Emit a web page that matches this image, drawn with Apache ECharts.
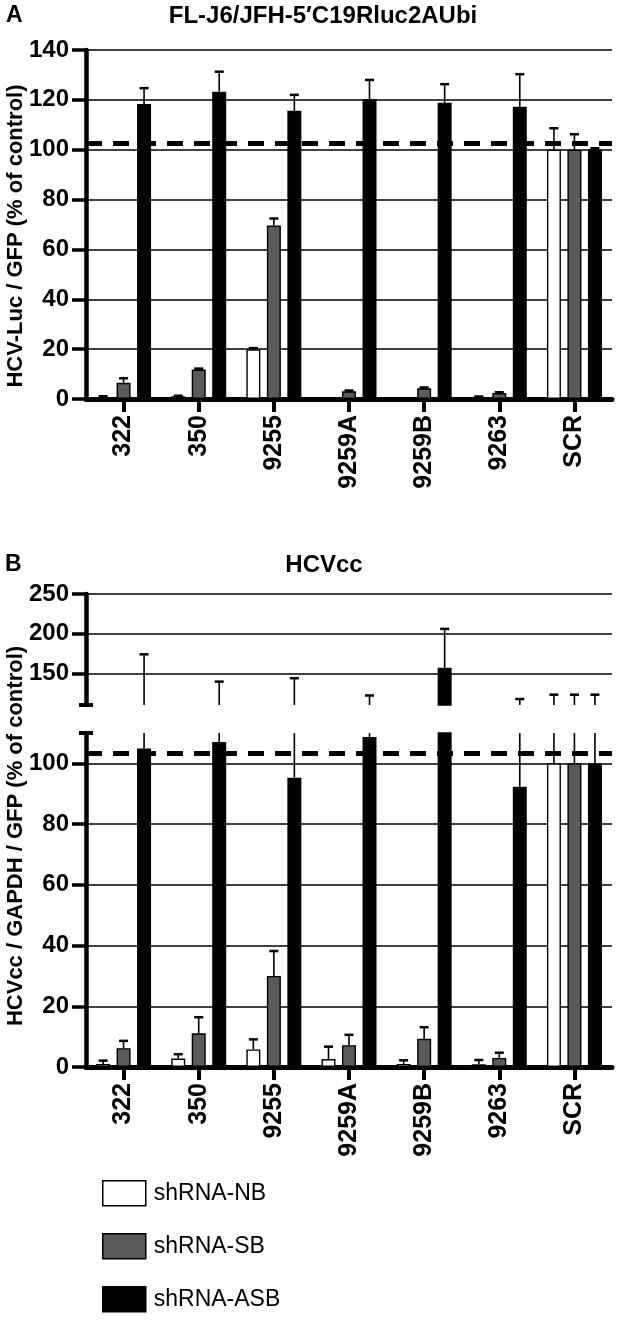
<!DOCTYPE html>
<html><head><meta charset="utf-8">
<script src="https://cdn.jsdelivr.net/npm/echarts@6/dist/echarts.min.js"></script>
<style>html,body{margin:0;padding:0;background:#fff}#c{width:628px;height:1321px}</style>
</head><body><div id="c"></div>
<script>
// ---------------- data ----------------
const categories = ['322', '350', '9255', '9259A', '9259B', '9263', 'SCR'];
const seriesNames = ['shRNA-NB', 'shRNA-SB', 'shRNA-ASB'];

// Panel A: FL-J6/JFH-5'C19Rluc2AUbi
const aNB = [0.8, 1.1, 19.9, 0.3, 0.3, 0.8, 100];
const aNBErr = [0.3, 0.2, 0.5, 0, 0, 0.2, 8.6];
const aSB = [6.5, 11.8, 69.6, 3.1, 4.3, 2.4, 100];
const aSBErr = [1.8, 0.4, 2.8, 0.3, 0.3, 0.3, 6.2];
const aASB = [118.3, 123.3, 115.6, 120.3, 118.8, 117.2, 100.3];
const aASBErr = [6.4, 8.0, 6.4, 7.7, 7.5, 13.1, 0.3];
const aRef = 102.4;
const aRange = [0, 140];
const aStep = 20;

// Panel B: HCVcc (broken axis)
const bNB = [1.0, 2.8, 5.8, 2.6, 1.0, 0.9, 100];
const bNBErr = [1.1, 1.4, 3.3, 4.1, 1.2, 1.4, 23];
const bSB = [6.2, 11.1, 30.0, 7.2, 9.3, 3.0, 100];
const bSBErr = [2.4, 5.3, 8.2, 3.4, 3.8, 1.7, 23];
const bASB = [104.9, 107.0, 95.3, 108.7, 157.0, 92.3, 100];
const bASBErr = [69.0, 32.5, 48.5, 13.3, 49.0, 25.2, 23];
const bRef = 103.3;
const bLowerRange = [0, 110];
const bUpperRange = [110, 250];
const bLowerTicks = [0, 20, 40, 60, 80, 100];
const bUpperTicks = [150, 200, 250];

// ---------------- style ----------------
const FONT = '"Liberation Sans", Arial, Helvetica, sans-serif';
const FILLS = ['#ffffff', '#5a5a5a', '#000000'];
const BAR_W = 14;
const BAR_STEP = 20.5;          // centre-to-centre distance of bars in a group
const CAP = 4.5;
const GL = 86, GR = 16;

const chart = echarts.init(document.getElementById('c'), null, {renderer: 'canvas'});

function errRender(offset) {
  return function (params, api) {
    const i = api.value(0), v = api.value(1), e = api.value(2);
    if (!(e > 0)) return null;
    const cs = params.coordSys;
    const top = cs.y, bot = cs.y + cs.height;
    const p0 = api.coord([i, v]);
    const p1 = api.coord([i, v + e]);
    if (p1[1] > bot + 0.5) return null;
    if (p0[1] < top - 0.5) return null;
    const x = p0[0] + offset;
    const y0 = Math.min(p0[1], bot);
    const y1 = Math.max(p1[1], top);
    const kids = [{type: 'line', shape: {x1: x, y1: y0, x2: x, y2: y1},
      style: {stroke: '#000', lineWidth: 1.6}}];
    if (p1[1] >= top - 0.5) {
      kids.push({type: 'line', shape: {x1: x - CAP, y1: p1[1], x2: x + CAP, y2: p1[1]},
        style: {stroke: '#000', lineWidth: 2.5}});
    }
    return {type: 'group', children: kids};
  };
}

const panels = [
  {grid: 0, vals: [aNB, aSB, aASB], errs: [aNBErr, aSBErr, aASBErr], ref: aRef},
  {grid: 1, vals: [bNB, bSB, bASB], errs: [bNBErr, bSBErr, bASBErr], ref: null},
  {grid: 2, vals: [bNB, bSB, bASB], errs: [bNBErr, bSBErr, bASBErr], ref: bRef}
];

const series = [];
panels.forEach(p => {
  p.vals.forEach((vals, k) => {
    series.push({
      type: 'bar', name: seriesNames[k], xAxisIndex: p.grid, yAxisIndex: p.grid,
      data: vals, barWidth: BAR_W, barGap: ((BAR_STEP - BAR_W) / BAR_W * 100) + '%',
      itemStyle: {color: FILLS[k], borderColor: '#000', borderWidth: 1.4},
      emphasis: {disabled: true}, silent: true, z: 2
    });
  });
  p.vals.forEach((vals, k) => {
    const s = {
      type: 'custom', xAxisIndex: p.grid, yAxisIndex: p.grid, z: 3, silent: true,
      renderItem: errRender((k - 1) * BAR_STEP),
      data: vals.map((v, i) => [i, v, p.errs[k][i]])
    };
    if (k === 2 && p.ref != null) {
      s.markLine = {
        silent: true, symbol: ['none', 'none'], label: {show: false},
        lineStyle: {color: '#000', width: 5, type: [16, 11]},
        emphasis: {disabled: true},
        data: [{yAxis: p.ref}]
      };
    }
    series.push(s);
  });
});

const axisLabelY = {color: '#000', fontSize: 24, fontWeight: 'bold', fontFamily: FONT, margin: 17};
const axisLineY = {show: true, lineStyle: {color: '#000', width: 4.5}};
const tickY = {show: true, length: 14, lineStyle: {color: '#000', width: 3.5}};
const splitY = {show: true, lineStyle: {color: '#000', width: 1.5}};

const xCommon = (idx, show) => ({
  type: 'category', gridIndex: idx, data: categories, show: show,
  axisLine: {show: true, onZero: false, lineStyle: {color: '#000', width: 5}},
  axisTick: {show: true, alignWithLabel: true, length: 13, lineStyle: {color: '#000', width: 4}},
  axisLabel: {rotate: 90, color: '#000', fontSize: 25, fontWeight: 'bold', fontFamily: FONT, margin: 16, interval: 0}
});

const option = {
  animation: false,
  backgroundColor: '#fff',
  grid: [
    {left: GL, right: GR, top: 50, height: 349},
    {left: GL, right: GR, top: 594, height: 111},
    {left: GL, right: GR, top: 733, height: 334}
  ],
  xAxis: [xCommon(0, true), xCommon(1, false), xCommon(2, true)],
  yAxis: [
    {type: 'value', gridIndex: 0, min: aRange[0], max: aRange[1], interval: aStep,
      axisLine: axisLineY, axisTick: tickY, axisLabel: axisLabelY, splitLine: splitY},
    {type: 'value', gridIndex: 1, min: bUpperRange[0], max: bUpperRange[1],
      axisLine: Object.assign({}, axisLineY, {symbol: ['rect', 'none'], symbolSize: [14, 4]}),
      axisTick: Object.assign({}, tickY, {customValues: bUpperTicks}),
      axisLabel: Object.assign({}, axisLabelY, {customValues: bUpperTicks}),
      splitLine: splitY},
    {type: 'value', gridIndex: 2, min: bLowerRange[0], max: bLowerRange[1],
      axisLine: Object.assign({}, axisLineY, {symbol: ['none', 'rect'], symbolSize: [14, 4]}),
      axisTick: Object.assign({}, tickY, {customValues: bLowerTicks}),
      axisLabel: Object.assign({}, axisLabelY, {customValues: bLowerTicks}),
      splitLine: splitY}
  ],
  legend: {
    orient: 'vertical', left: 102, top: 1180, height: 141, padding: 0,
    itemWidth: 43, itemHeight: 25, itemGap: 26.5,
    icon: 'rect', selectedMode: false, data: seriesNames,
    itemStyle: {borderColor: '#000', borderWidth: 1.5},
    textStyle: {fontSize: 23, color: '#000', fontFamily: FONT, padding: [0, 0, 0, 3]}
  },
  graphic: [
    {type: 'text', x: 6, y: 16, style: {text: 'A', font: 'bold 23px ' + FONT, fill: '#000', textVerticalAlign: 'middle'}},
    {type: 'text', x: 323, y: 16, style: {text: 'FL-J6/JFH-5\u2032C19Rluc2AUbi', font: 'bold 24px ' + FONT, fill: '#000', textAlign: 'center', textVerticalAlign: 'middle'}},
    {type: 'text', x: 5, y: 565, style: {text: 'B', font: 'bold 23px ' + FONT, fill: '#000', textVerticalAlign: 'middle'}},
    {type: 'text', x: 324, y: 565, style: {text: 'HCVcc', font: 'bold 24px ' + FONT, fill: '#000', textAlign: 'center', textVerticalAlign: 'middle'}},
    {type: 'text', x: 16, y: 236, rotation: Math.PI / 2, style: {text: 'HCV-Luc / GFP (% of control)', font: 'bold 22px ' + FONT, fill: '#000', textAlign: 'center', textVerticalAlign: 'middle'}},
    {type: 'text', x: 16, y: 836, rotation: Math.PI / 2, style: {text: 'HCVcc / GAPDH / GFP (% of control)', font: 'bold 22px ' + FONT, fill: '#000', textAlign: 'center', textVerticalAlign: 'middle'}}
  ],
  series: series
};
chart.setOption(option);
</script></body></html>
